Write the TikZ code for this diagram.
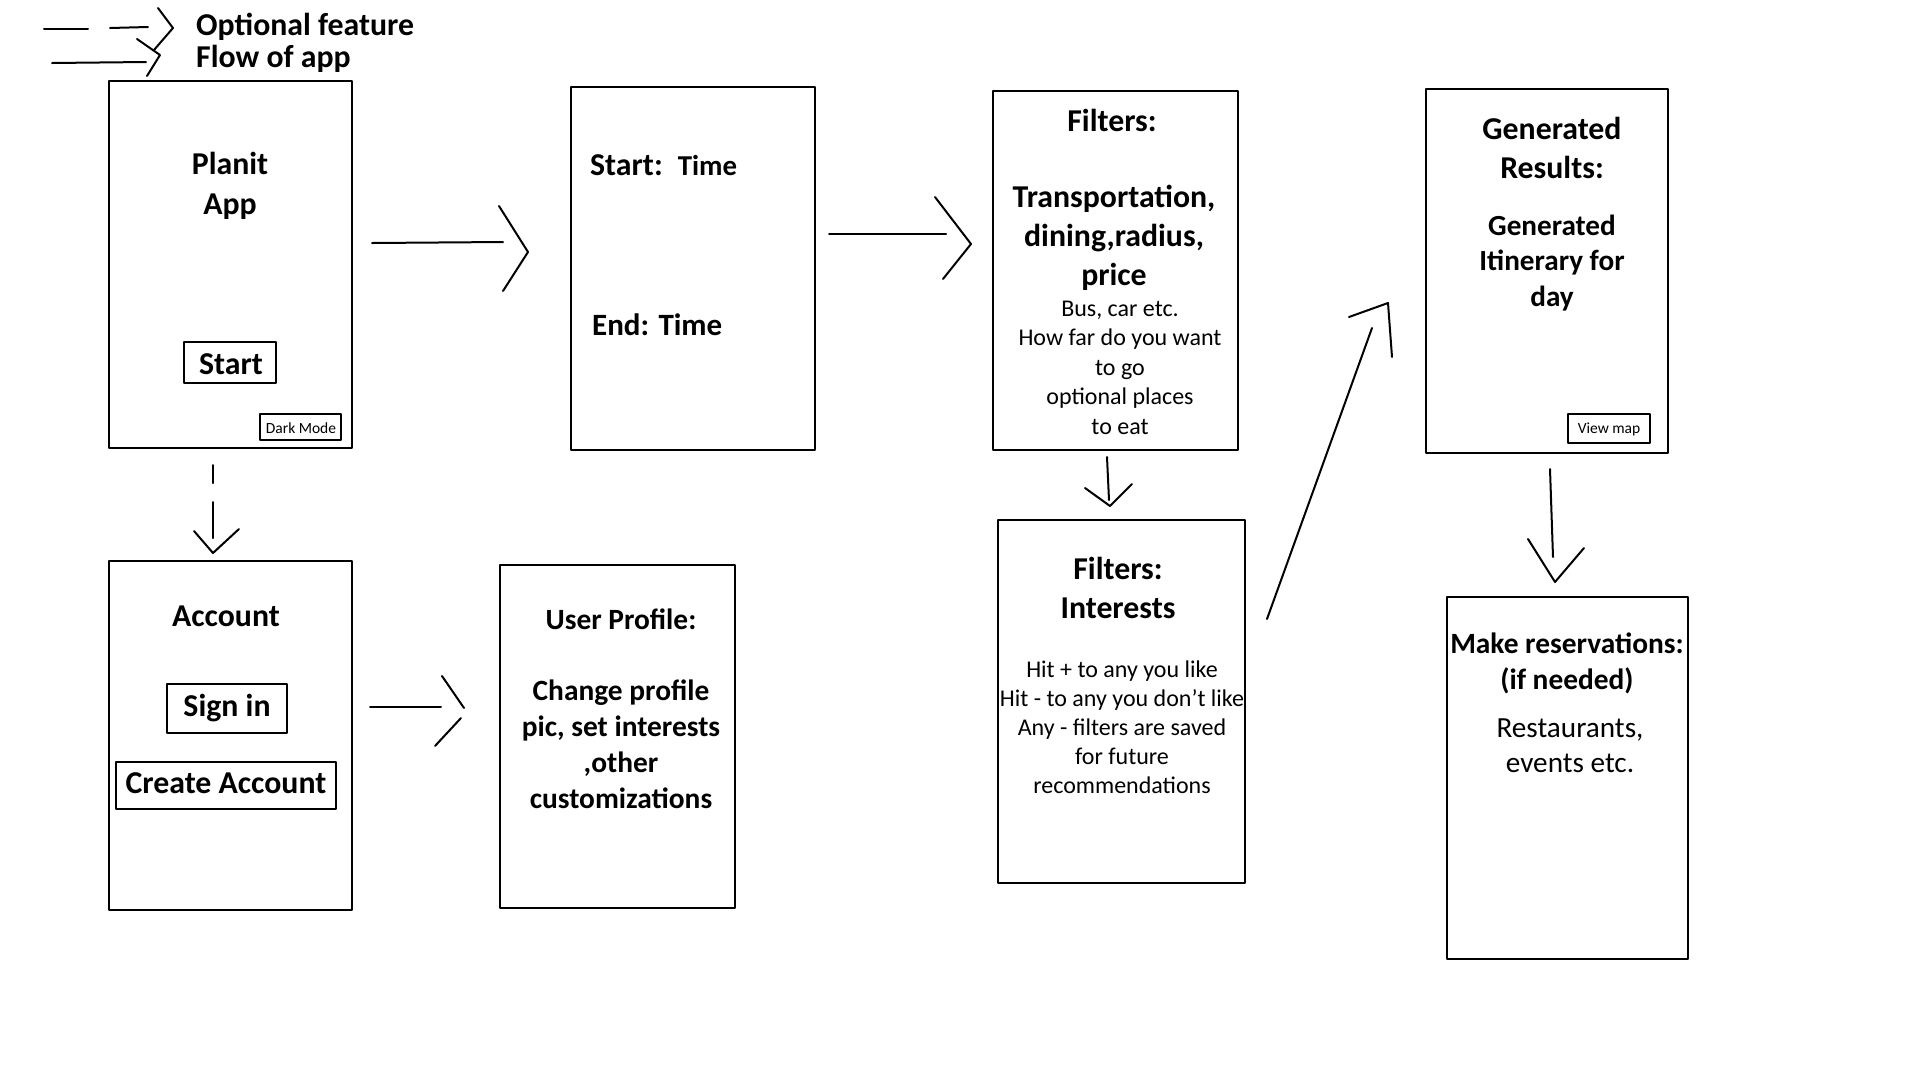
\documentclass[tikz,border=0pt]{standalone}
\usepackage{fontspec}
\setmainfont{Carlito}
\begin{document}
\begin{tikzpicture}[x=1pt,y=-1pt,line cap=round,line join=round,
  frame/.style={draw,line width=2.2pt,inner sep=0pt,outer sep=0pt,anchor=north west},
  btn/.style={draw,line width=1.9pt,inner sep=0pt,outer sep=0pt,anchor=north west},
  bigt/.style={font=\bfseries\fontsize{31.8}{39}\selectfont,align=center,inner sep=0pt,anchor=base},
  midt/.style={font=\bfseries\fontsize{29.4}{35.7}\selectfont,align=center,inner sep=0pt,anchor=base},
  smallt/.style={font=\fontsize{24}{29.5}\selectfont,align=center,inner sep=0pt,anchor=base},
  tinyt/.style={font=\fontsize{15.5}{18}\selectfont,inner sep=0pt},
  link/.style={line width=2pt}]
\useasboundingbox (0,0) rectangle (1920,1080);
\fill[white] (0,0) rectangle (1920,1080);

% ---------- legend ----------
\coordinate (lgDa) at (44,29);  \coordinate (lgDb) at (88,29);
\coordinate (lgDc) at (110,28); \coordinate (lgDd) at (148,27);
\coordinate (lgDtip) at (173,28);
\draw[link] (lgDa) -- (lgDb);
\draw[link] (lgDc) -- (lgDd);
\draw[link] (158,8) -- (lgDtip) -- (154,50);
\coordinate (lgFa) at (52,63); \coordinate (lgFb) at (146,62);
\coordinate (lgFtip) at (160,55);
\draw[link] (lgFa) -- (lgFb);
\draw[link] (137,39) -- (lgFtip) -- (147,76);
\node[font=\bfseries\fontsize{31.8}{39}\selectfont,inner sep=0pt,anchor=base west] (lgOpt) at (196,35) {Optional feature};
\node[font=\bfseries\fontsize{31.8}{39}\selectfont,inner sep=0pt,anchor=base west] (lgFlow) at (196,67) {Flow of app};

% ---------- screens ----------
\node[frame,minimum width=243pt,minimum height=367pt] (planit) at (109,81) {};
\node[frame,minimum width=244pt,minimum height=363pt] (startend) at (571,87) {};
\node[frame,minimum width=245pt,minimum height=359pt] (filt) at (993,91) {};
\node[frame,minimum width=242pt,minimum height=364pt] (gen) at (1426,89) {};
\node[frame,minimum width=243pt,minimum height=349pt] (acct) at (109,561) {};
\node[frame,minimum width=235pt,minimum height=343pt] (prof) at (500,565) {};
\node[frame,minimum width=247pt,minimum height=363pt] (intr) at (998,520) {};
\node[frame,minimum width=241pt,minimum height=362pt] (resv) at (1447,597) {};

% ---------- buttons ----------
\node[btn,minimum width=92pt,minimum height=41pt] (startbtn) at (184,342) {};
\node[btn,minimum width=81pt,minimum height=26pt] (darkbtn) at (260,414) {};
\node[btn,minimum width=82pt,minimum height=29pt] (mapbtn) at (1568,414) {};
\node[btn,minimum width=120pt,minimum height=49pt] (signbtn) at (167,684) {};
\node[btn,minimum width=220pt,minimum height=47pt] (createbtn) at (116,762) {};

% ---------- texts (base = baseline of last line) ----------
\node[bigt] (tPlanit) at (230,214) {Planit\\[1pt]App};
\node[bigt] (tStart) at (231,374) {Start};
\node[tinyt] (tDark) at (301,428) {Dark Mode};

\node[font=\bfseries\fontsize{31.8}{39}\selectfont,inner sep=0pt,anchor=base west] (tStartT) at (590,175)
  {Start:\hspace{15pt}{\fontsize{28.8}{34}\selectfont Time}};
\node[font=\bfseries\fontsize{31}{39}\selectfont,inner sep=0pt,anchor=base west] (tEndT) at (592,335) {End: Time};

\node[bigt] (tFilt) at (1112,131) {Filters:};
\node[bigt] (tFiltB) at (1114,285) {Transportation,\\dining,radius,\\price};
\node[smallt] (tFiltS) at (1120,434) {Bus, car etc.\\How far do you want\\to go\\optional places\\to eat};

\node[bigt] (tIntr) at (1118,618) {Filters:\\Interests};
\node[smallt,font=\fontsize{24}{29}\selectfont] (tIntrS) at (1122,793) {Hit + to any you like\\Hit - to any you don't like\\Any - filters are saved\\for future\\recommendations};

\node[bigt] (tGen) at (1552,178) {Generated\\Results:};
\node[bigt,font=\bfseries\fontsize{29.2}{35.5}\selectfont] (tGenB) at (1552,306) {Generated\\Itinerary for\\day};
\node[tinyt] (tMap) at (1609,429) {View map};

\node[midt,font=\bfseries\fontsize{29.4}{36}\selectfont] (tResv) at (1567,689) {Make reservations:\\(if needed)};
\node[smallt,font=\fontsize{29.2}{35}\selectfont] (tResvS) at (1570,772) {Restaurants,\\events etc.};

\node[bigt] (tAcct) at (226,626) {Account};
\node[bigt] (tSign) at (227,716) {Sign in};
\node[bigt] (tCreate) at (226,793) {Create Account};

\node[midt] (tProf) at (621,629) {User Profile:};
\node[midt] (tProfB) at (621,808) {Change profile\\pic, set interests\\,other\\customizations};

% ---------- connectors ----------
% Planit -> Start/End
\coordinate (a1s) at (372,243); \coordinate (a1e) at (503,242); \coordinate (a1tip) at (528,252);
\draw[link] (a1s) -- (a1e);
\draw[link] (499,206) -- (a1tip) -- (503,291);
% Start/End -> Filters
\coordinate (a2s) at (829,234); \coordinate (a2e) at (946,234); \coordinate (a2tip) at (971,244);
\draw[link] (a2s) -- (a2e);
\draw[link] (935,197) -- (a2tip) -- (943,279);
% Planit -> Account (optional, dashed)
\coordinate (a3s) at (213,465); \coordinate (a3e) at (213,538); \coordinate (a3tip) at (213,553);
\draw[link] (a3s) -- (213,483);
\draw[link] (213,502) -- (a3e);
\draw[link] (194,531) -- (a3tip) -- (239,529);
% Account -> Profile
\coordinate (a4s) at (370,707); \coordinate (a4e) at (441,707);
\draw[link] (a4s) -- (a4e);
\draw[link] (442,676) -- (464,708);
\draw[link] (461,718) -- (435,746);
% Filters -> Interests
\coordinate (a5s) at (1107,457); \coordinate (a5e) at (1109,500); \coordinate (a5tip) at (1110,506);
\draw[link] (a5s) -- (a5e);
\draw[link] (1085,488) -- (a5tip) -- (1132,484);
% Interests -> Generated
\coordinate (a6s) at (1267,619); \coordinate (a6e) at (1372,328); \coordinate (a6tip) at (1388,303);
\draw[link] (a6s) -- (a6e);
\draw[link] (1349,317) -- (a6tip) -- (1392,357);
% Generated -> Reservations
\coordinate (a7s) at (1550,469); \coordinate (a7e) at (1553,557); \coordinate (a7tip) at (1555,582);
\draw[link] (a7s) -- (a7e);
\draw[link] (1528,539) -- (a7tip) -- (1584,548);
\end{tikzpicture}
\end{document}
